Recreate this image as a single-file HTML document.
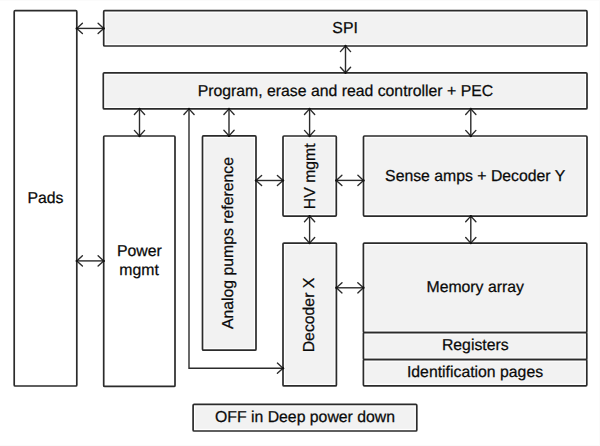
<!DOCTYPE html>
<html><head><meta charset="utf-8">
<style>
html,body{margin:0;padding:0;background:#fff;width:600px;height:446px;overflow:hidden}
svg{display:block}
text{font-family:"Liberation Sans",sans-serif;font-size:15.8px;fill:#0a0a0a;stroke:#0a0a0a;stroke-width:0.25px;text-rendering:geometricPrecision}
</style></head><body>
<svg width="600" height="446" viewBox="0 0 600 446">

<g stroke="#2b2b2b" stroke-width="1.7">
<rect x="14.2" y="10.7" width="62.6" height="375.3" fill="#fff" rx="1"/>
<rect x="103.7" y="10.7" width="483.3" height="35.3" fill="#fff" rx="1"/>
<rect x="103.3" y="72.8" width="483.7" height="36.1" fill="#fff" rx="1"/>
<rect x="103.7" y="136" width="71.3" height="250.4" fill="#fff" rx="1"/>
<rect x="202.5" y="135.9" width="53.5" height="214.3" fill="#fff" rx="1"/>
<rect x="283" y="136" width="53.3" height="80.1" fill="#fff" rx="1"/>
<rect x="363.5" y="136" width="223.5" height="80.1" fill="#fff" rx="1"/>
<rect x="283" y="243.1" width="53.4" height="142.8" fill="#fff" rx="1"/>
<rect x="363.4" y="243.1" width="223.4" height="89.5" fill="#fff" rx="1"/>
<rect x="363.4" y="332.6" width="223.4" height="27.0" fill="#fff" rx="1"/>
<rect x="363.4" y="359.6" width="223.4" height="26.2" fill="#fff" rx="1"/>
<rect x="193.1" y="404.4" width="223.7" height="26.6" fill="#fff" rx="1"/>
</g><g stroke="none">
<rect x="105.8" y="12.8" width="479.1" height="31.1" fill="#f2f2f2"/>
<rect x="105.4" y="74.9" width="479.5" height="31.9" fill="#f2f2f2"/>
<rect x="204.6" y="138.0" width="49.3" height="210.1" fill="#f2f2f2"/>
<rect x="285.1" y="138.1" width="49.1" height="75.9" fill="#f2f2f2"/>
<rect x="365.6" y="138.1" width="219.3" height="75.9" fill="#f2f2f2"/>
<rect x="285.1" y="245.2" width="49.2" height="138.6" fill="#f2f2f2"/>
<rect x="365.5" y="245.2" width="219.2" height="85.3" fill="#f2f2f2"/>
<rect x="365.5" y="334.7" width="219.2" height="22.8" fill="#f2f2f2"/>
<rect x="365.5" y="361.7" width="219.2" height="22.0" fill="#f2f2f2"/>
<rect x="195.2" y="406.5" width="219.5" height="22.4" fill="#f2f2f2"/>
</g>
<g stroke="#2b2b2b" stroke-width="1.4" fill="none" stroke-linecap="butt" stroke-linejoin="miter">
<path d="M76.8,28.4 H103.7"/>
<path d="M345.5,46 V72.8"/>
<path d="M139.5,108.9 V136"/>
<path d="M229,108.9 V135.9"/>
<path d="M309.6,108.9 V136"/>
<path d="M470.8,108.9 V136"/>
<path d="M256,180.5 H283"/>
<path d="M336.3,180.4 H363.5"/>
<path d="M309.6,216.1 V243.1"/>
<path d="M470.8,216.1 V243.1"/>
<path d="M76.8,260.9 H103.7"/>
<path d="M336.4,287.8 H363.4"/>
<path d="M189,108.9 V368.2 H283"/>
</g>
<g stroke="#2b2b2b" stroke-width="1.4" fill="none" stroke-linecap="round" stroke-linejoin="round">
<path d="M98.10000000000001,23.299999999999997 L103.7,28.4 L98.10000000000001,33.5"/>
<path d="M82.39999999999999,23.299999999999997 L76.8,28.4 L82.39999999999999,33.5"/>
<path d="M340.4,67.2 L345.5,72.8 L350.6,67.2"/>
<path d="M340.4,51.6 L345.5,46 L350.6,51.6"/>
<path d="M134.4,130.4 L139.5,136 L144.6,130.4"/>
<path d="M134.4,114.5 L139.5,108.9 L144.6,114.5"/>
<path d="M223.9,130.3 L229,135.9 L234.1,130.3"/>
<path d="M223.9,114.5 L229,108.9 L234.1,114.5"/>
<path d="M304.5,130.4 L309.6,136 L314.70000000000005,130.4"/>
<path d="M304.5,114.5 L309.6,108.9 L314.70000000000005,114.5"/>
<path d="M465.7,130.4 L470.8,136 L475.90000000000003,130.4"/>
<path d="M465.7,114.5 L470.8,108.9 L475.90000000000003,114.5"/>
<path d="M277.4,175.4 L283,180.5 L277.4,185.6"/>
<path d="M261.6,175.4 L256,180.5 L261.6,185.6"/>
<path d="M357.9,175.3 L363.5,180.4 L357.9,185.5"/>
<path d="M341.90000000000003,175.3 L336.3,180.4 L341.90000000000003,185.5"/>
<path d="M304.5,237.5 L309.6,243.1 L314.70000000000005,237.5"/>
<path d="M304.5,221.7 L309.6,216.1 L314.70000000000005,221.7"/>
<path d="M465.7,237.5 L470.8,243.1 L475.90000000000003,237.5"/>
<path d="M465.7,221.7 L470.8,216.1 L475.90000000000003,221.7"/>
<path d="M98.10000000000001,255.79999999999998 L103.7,260.9 L98.10000000000001,266.0"/>
<path d="M82.39999999999999,255.79999999999998 L76.8,260.9 L82.39999999999999,266.0"/>
<path d="M357.79999999999995,282.7 L363.4,287.8 L357.79999999999995,292.90000000000003"/>
<path d="M342.0,282.7 L336.4,287.8 L342.0,292.90000000000003"/>
<path d="M183.9,114.5 L189,108.9 L194.1,114.5"/>
<path d="M277.4,363.09999999999997 L283,368.2 L277.4,373.3"/>
</g><g fill="#111">
<circle cx="103.7" cy="28.4" r="1.2"/>
<circle cx="76.8" cy="28.4" r="1.2"/>
<circle cx="345.5" cy="72.8" r="1.2"/>
<circle cx="345.5" cy="46" r="1.2"/>
<circle cx="139.5" cy="136" r="1.2"/>
<circle cx="139.5" cy="108.9" r="1.2"/>
<circle cx="229" cy="135.9" r="1.2"/>
<circle cx="229" cy="108.9" r="1.2"/>
<circle cx="309.6" cy="136" r="1.2"/>
<circle cx="309.6" cy="108.9" r="1.2"/>
<circle cx="470.8" cy="136" r="1.2"/>
<circle cx="470.8" cy="108.9" r="1.2"/>
<circle cx="283" cy="180.5" r="1.2"/>
<circle cx="256" cy="180.5" r="1.2"/>
<circle cx="363.5" cy="180.4" r="1.2"/>
<circle cx="336.3" cy="180.4" r="1.2"/>
<circle cx="309.6" cy="243.1" r="1.2"/>
<circle cx="309.6" cy="216.1" r="1.2"/>
<circle cx="470.8" cy="243.1" r="1.2"/>
<circle cx="470.8" cy="216.1" r="1.2"/>
<circle cx="103.7" cy="260.9" r="1.2"/>
<circle cx="76.8" cy="260.9" r="1.2"/>
<circle cx="363.4" cy="287.8" r="1.2"/>
<circle cx="336.4" cy="287.8" r="1.2"/>
<circle cx="189" cy="108.9" r="1.2"/>
<circle cx="283" cy="368.2" r="1.2"/>
</g>
<text x="345.1" y="33" text-anchor="middle">SPI</text>
<text x="345.4" y="96" text-anchor="middle">Program, erase and read controller + PEC</text>
<text x="45.4" y="203" text-anchor="middle">Pads</text>
<text x="139.3" y="256" text-anchor="middle">Power</text>
<text x="139.1" y="275" text-anchor="middle">mgmt</text>
<text x="475.2" y="181" text-anchor="middle">Sense amps + Decoder Y</text>
<text x="475.2" y="291.7" text-anchor="middle">Memory array</text>
<text x="475.3" y="350" text-anchor="middle">Registers</text>
<text x="475" y="377.3" text-anchor="middle">Identification pages</text>
<text x="305" y="422.2" text-anchor="middle">OFF in Deep power down</text>
<text transform="translate(233,243) rotate(-90)" text-anchor="middle">Analog pumps reference</text>
<text transform="translate(315,176.3) rotate(-90)" text-anchor="middle">HV mgmt</text>
<text transform="translate(314.1,315) rotate(-90)" text-anchor="middle">Decoder X</text>
<path d="M0,0.5 H600 M599.5,0 V446 M0,445.5 H600" stroke="#fbfbfb" stroke-width="1" fill="none"/>
</svg>
</body></html>
